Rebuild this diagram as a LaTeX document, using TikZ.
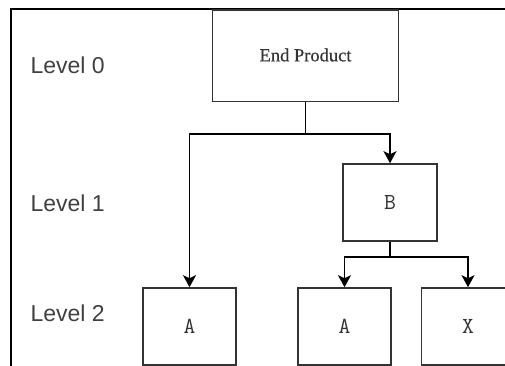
\documentclass[tikz,border=0pt]{standalone}
\usepackage{fontspec}
\setmainfont{Liberation Serif}
\newfontfamily\lvlfont{Liberation Sans}
\usetikzlibrary{arrows.meta}
\definecolor{lvlgray}{HTML}{404040}
\definecolor{boxline}{HTML}{333333}
\tikzset{
  box/.style={draw=boxline, line width=1.6pt, rectangle, inner sep=0pt, fill=white},
  lettertext/.style={font=\ttfamily\addfontfeatures{FakeBold=1.2}\fontsize{23}{26}\selectfont, text=boxline},
  lvl/.style={anchor=west, text=lvlgray, font=\lvlfont\fontsize{23}{26}\selectfont},
  conn/.style={draw=black, line width=1.6pt, -{Stealth[length=12pt,width=13pt,inset=3pt]}},
  plain/.style={draw=black, line width=1.6pt}
}
\begin{document}
\begin{tikzpicture}[x=1pt,y=-1pt]
\useasboundingbox (0,0) rectangle (505,365);
\clip (0,0) rectangle (505,365);
\draw[line width=2pt] (11,9) rectangle (600,420);
\node[lvl] (l0) at (27,65) {Level 0};
\node[lvl] (l1) at (27,203) {Level 1};
\node[lvl] (l2) at (27,313) {Level 2};
\node[box, minimum width=186pt, minimum height=91.5pt] (ep) at (305.5,55.75) {};
\node[text=boxline, font=\addfontfeatures{FakeBold=0.4}\fontsize{18.5}{21}\selectfont] (eptext) at (305.5,55) {End Product};
\node[box, lettertext, minimum width=94pt, minimum height=77pt] (b) at (390,202.5) {B};
\node[box, lettertext, minimum width=93pt, minimum height=77pt] (a1) at (189.5,326.5) {A};
\node[box, lettertext, minimum width=93pt, minimum height=77pt] (a2) at (344.5,326.5) {A};
\node[box, lettertext, minimum width=93pt, minimum height=77pt] (x) at (468,326.5) {X};
\coordinate (j0) at (305.5,134);
\coordinate (j1) at (390,257);
\draw[plain] (ep.south) -- (j0);
\draw[conn] (j0) -| (a1.north);
\draw[conn] (j0) -| (b.north);
\draw[plain] (b.south) -- (j1);
\draw[conn] (j1) -| (a2.north);
\draw[conn] (j1) -| (x.north);
\end{tikzpicture}
\end{document}
